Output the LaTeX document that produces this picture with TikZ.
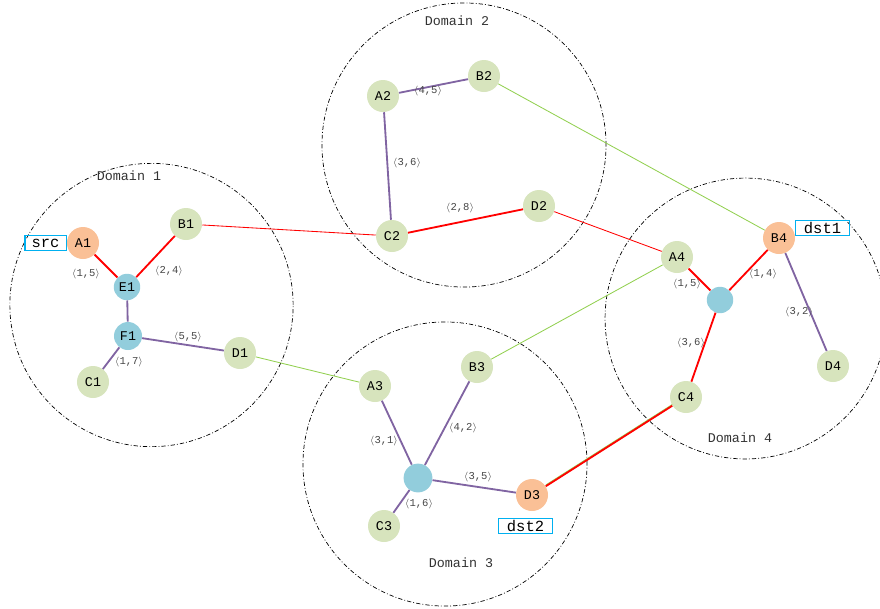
\documentclass[tikz,border=0pt]{standalone}
\usepackage{fontspec}
\setmainfont{Liberation Mono}
\usepackage{tikz}
\usetikzlibrary{positioning}
\definecolor{nodegreen}{RGB}{215,228,189}
\definecolor{nodeorange}{RGB}{250,192,150}
\definecolor{nodeblue}{RGB}{146,205,220}
\definecolor{linepurple}{RGB}{128,100,162}
\definecolor{linegreen}{RGB}{146,208,80}
\definecolor{boxcyan}{RGB}{0,176,240}
\definecolor{labelgray}{RGB}{70,70,70}
\newcommand{\costpair}[1]{$\langle$#1$\rangle$}
\tikzset{
  router/.style={circle, fill=nodegreen, minimum size=0.8cm,
    inner sep=0pt, font=\fontsize{9.5}{11}\selectfont},
  srcdst/.style={router, fill=nodeorange},
  hub/.style={circle, fill=nodeblue, minimum size=0.68cm,
    inner sep=0pt, font=\fontsize{9.5}{11}\selectfont},
  domainring/.style={draw=black, line width=0.5pt,
    dash pattern=on 3pt off 1.5pt on 0.6pt off 1.5pt},
  domlabel/.style={font=\fontsize{9.5}{11}\selectfont, text=black!80},
  intra/.style={line width=1.3pt, color=linepurple},
  redpath/.style={line width=1.3pt, color=red},
  interred/.style={line width=0.6pt, color=red},
  intergreen/.style={line width=0.6pt, color=linegreen},
  cost/.style={font=\fontsize{7.5}{9}\selectfont, text=labelgray, inner sep=1pt},
  tag/.style={draw=boxcyan, line width=0.8pt, inner sep=0pt,
    minimum height=0.36cm, font=\fontsize{11}{12}\selectfont}
}

\begin{document}
\begin{tikzpicture}[x=0.025cm, y=-0.025cm]
  \useasboundingbox (0,0) rectangle (880,608);

  % Domains
  \draw[domainring] (151.5,305) circle [radius=3.54cm];
  \draw[domainring] (464,145) circle [radius=3.55cm];
  \draw[domainring] (445,464) circle [radius=3.55cm];
  \draw[domainring] (745.5,318.5) circle [radius=3.51cm];
  \node[domlabel] (dom1) at (129,176) {Domain 1};
  \node[domlabel] (dom2) at (457,21) {Domain 2};
  \node[domlabel] (dom3) at (461,563) {Domain 3};
  \node[domlabel] (dom4) at (740,438) {Domain 4};

  % Domain 1 nodes
  \node[srcdst] (a1) at (83,243) {A1};
  \node[router] (b1) at (186,224) {B1};
  \node[hub, minimum size=0.66cm] (e1) at (127,287) {E1};
  \node[hub, minimum size=0.7cm] (f1) at (128,336) {F1};
  \node[router] (c1) at (93,382) {C1};
  \node[router] (d1) at (240,353) {D1};
  \node[tag, minimum width=1.03cm, left=0pt of a1] (src) {src};

  % Domain 2 nodes
  \node[router] (a2) at (383,96) {A2};
  \node[router] (b2) at (484,76) {B2};
  \node[router] (c2) at (392,236) {C2};
  \node[router] (d2) at (539,206) {D2};

  % Domain 3 nodes
  \node[router] (a3) at (375,386) {A3};
  \node[router] (b3) at (477,367) {B3};
  \node[hub, minimum size=0.72cm] (h3) at (418,478) {};
  \node[router] (c3) at (384,526) {C3};
  \node[srcdst] (d3) at (532,495) {D3};
  \node[tag, minimum width=1.33cm] (dst2) at (525.5,526) {dst2};

  % Domain 4 nodes
  \node[router] (a4) at (677,257) {A4};
  \node[srcdst] (b4) at (779,238) {B4};
  \node[hub, minimum size=0.66cm] (h4) at (720,300) {};
  \node[router] (c4) at (686,397) {C4};
  \node[router] (d4) at (833,366) {D4};
  \node[tag, minimum width=1.33cm] (dst1) at (822.5,228) {dst1};

  % Links inside domains
  \draw[redpath] (a1) -- (e1);
  \draw[redpath] (e1) -- (b1);
  \draw[intra] (e1) -- (f1);
  \draw[intra] (f1) -- (c1);
  \draw[intra] (f1) -- (d1);
  \draw[intra] (a2) -- (b2);
  \draw[intra] (a2) -- (c2);
  \draw[redpath] (c2) -- (d2);
  \draw[intra] (a3) -- (h3);
  \draw[intra] (b3) -- (h3);
  \draw[intra] (c3) -- (h3);
  \draw[intra] (h3) -- (d3);
  \draw[redpath] (a4) -- (h4);
  \draw[redpath] (h4) -- (b4);
  \draw[redpath] (h4) -- (c4);
  \draw[intra] (b4) -- (d4);

  % Links between domains
  \draw[interred] (b1) -- (c2);
  \draw[interred] (d2) -- (a4);
  \draw[intergreen] (b2) -- (b4);
  \draw[intergreen] (d1) -- (a3);
  \draw[intergreen] (b3) -- (a4);
  \draw[intergreen, transform canvas={yshift=0.9pt}] (d3) -- (c4);
  \draw[redpath] (d3) -- (c4);

  % Link costs
  \node[cost] (k1) at (86,274) {\costpair{1,5}};
  \node[cost] (k2) at (169,271) {\costpair{2,4}};
  \node[cost] (k3) at (188,337) {\costpair{5,5}};
  \node[cost] (k4) at (129,362) {\costpair{1,7}};
  \node[cost] (k5) at (428,91) {\costpair{4,5}};
  \node[cost] (k6) at (407,163) {\costpair{3,6}};
  \node[cost] (k7) at (460,208) {\costpair{2,8}};
  \node[cost] (k8) at (384,441) {\costpair{3,1}};
  \node[cost] (k9) at (463,428) {\costpair{4,2}};
  \node[cost] (k10) at (478,477) {\costpair{3,5}};
  \node[cost] (k11) at (419,504) {\costpair{1,6}};
  \node[cost] (k12) at (687,284) {\costpair{1,5}};
  \node[cost] (k13) at (763,274) {\costpair{1,4}};
  \node[cost] (k14) at (691,343) {\costpair{3,6}};
  \node[cost] (k15) at (799,312) {\costpair{3,2}};
\end{tikzpicture}
\end{document}
